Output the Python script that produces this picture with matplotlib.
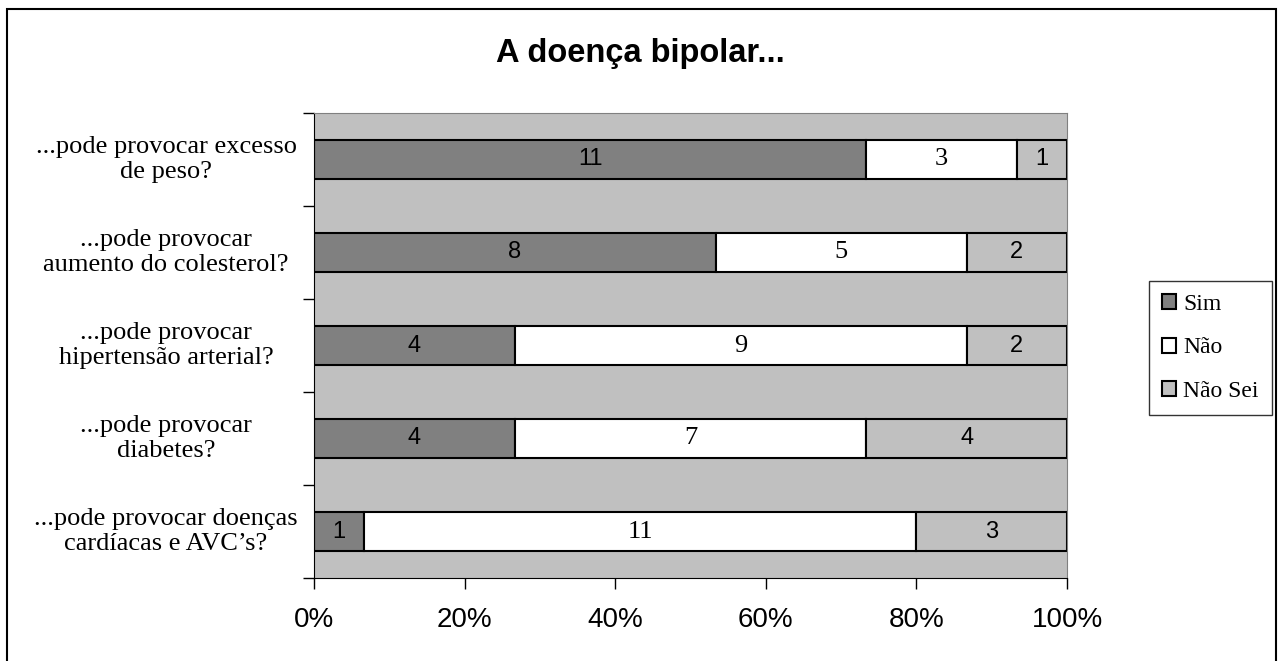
import numpy as np
import matplotlib
matplotlib.use('Agg')
import matplotlib.pyplot as plt
from matplotlib.patches import Rectangle
from matplotlib.ticker import PercentFormatter

categories = [
    '...pode provocar excesso\nde peso?',
    '...pode provocar\naumento do colesterol?',
    '...pode provocar\nhipertensão arterial?',
    '...pode provocar\ndiabetes?',
    '...pode provocar doenças\ncardíacas e AVC’s?',
]
series_names = ['Sim', 'Não', 'Não Sei']
sim = [11, 8, 4, 4, 1]
nao = [3, 5, 9, 7, 11]
nao_sei = [1, 2, 2, 4, 3]
x_ticks = [0, 0.2, 0.4, 0.6, 0.8, 1.0]

SANS = 'Liberation Sans'
SERIF = 'Liberation Serif'

counts = np.array([sim, nao, nao_sei], dtype=float)
shares = counts / counts.sum(axis=0)

fig = plt.figure(figsize=(12.78, 6.61), dpi=100)
W, H = 1278, 661
ax = fig.add_axes([314 / W, 1 - 578 / H, (1067 - 314) / W, (578 - 113) / H])
ax.set_facecolor('#c0c0c0')

y = np.arange(len(categories))
colors = ['#808080', '#ffffff', '#c0c0c0']
label_fonts = [SANS, SERIF, SANS]
label_sizes = [17, 19, 17]
left = np.zeros(len(categories))
for i in range(len(series_names)):
    bars = ax.barh(y, shares[i], left=left, height=0.41, color=colors[i],
                   edgecolor='black', linewidth=1.5, label=series_names[i])
    ax.bar_label(bars, labels=[str(int(v)) for v in counts[i]], label_type='center',
                 fontfamily=label_fonts[i], fontsize=label_sizes[i])
    left += shares[i]

ax.set_xlim(0, 1)
ax.set_ylim(len(categories) - 0.5, -0.5)

# tick marks sit on the category boundaries, labels are drawn separately
ax.set_yticks(np.arange(-0.5, len(categories)))
ax.set_yticklabels([])
for yi, cat in zip(y, categories):
    ax.text(-0.1965, yi, cat, transform=ax.get_yaxis_transform(), ha='center',
            va='center', fontfamily=SERIF, fontsize=19, linespacing=1.2)

ax.set_xticks(x_ticks)
ax.xaxis.set_major_formatter(PercentFormatter(1.0, decimals=0))
for lbl in ax.get_xticklabels():
    lbl.set_fontfamily(SANS)
    lbl.set_fontsize(20)
ax.tick_params(axis='both', direction='out', length=8, width=1, color='black')
ax.tick_params(axis='x', pad=13)

for side in ['top', 'right']:
    ax.spines[side].set_color('#808080')
for side in ['left', 'bottom']:
    ax.spines[side].set_color('black')

fig.text(640 / W, 1 - 62 / H, 'A doença bipolar...', ha='center', va='baseline',
         fontsize=23.5, fontweight='bold', fontfamily=SANS)

leg = fig.legend(loc='upper left', bbox_to_anchor=(1149 / W, 1 - 281 / H),
                 prop={'family': SERIF, 'size': 17}, frameon=True, fancybox=False,
                 edgecolor='black', borderaxespad=0, handlelength=0.6, handleheight=0.6,
                 handletextpad=0.3, labelspacing=0.95, borderpad=0.55)
leg.get_frame().set_linewidth(1)

fig.patches.append(Rectangle((7 / W, -0.01), (1276 - 7) / W, 1.01 - 9 / H,
                             transform=fig.transFigure, fill=False,
                             edgecolor='black', linewidth=1.5))

fig.savefig('out.png', dpi=100)
